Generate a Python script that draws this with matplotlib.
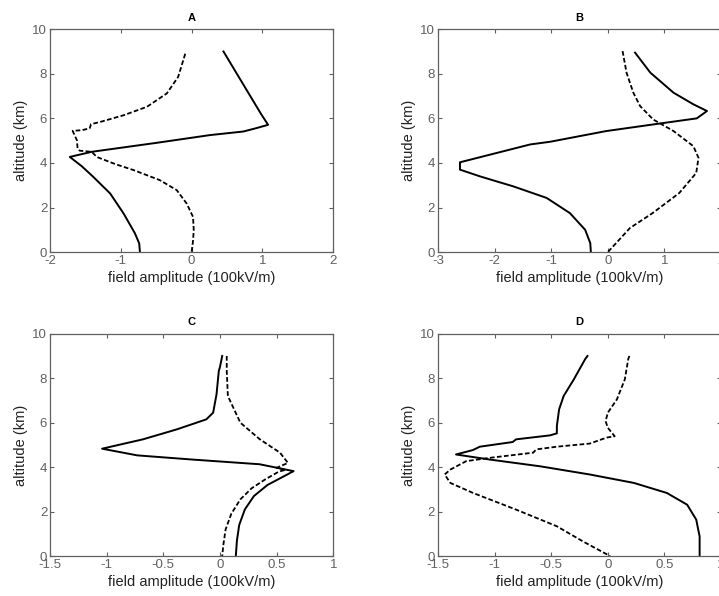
import matplotlib
matplotlib.use("Agg")
import matplotlib.pyplot as plt

plt.rcParams["font.family"] = ["Liberation Sans", "DejaVu Sans"]
plt.rcParams["axes.unicode_minus"] = False

# panel A
a_solid_x = [0.45, 0.62, 0.80, 0.98, 1.08, 0.90, 0.73, 0.26, -0.50, -1.41, -1.72,
             -1.55, -1.39, -1.15, -0.96, -0.80, -0.74, -0.73]
a_solid_y = [9.0, 8.1, 7.15, 6.2, 5.71, 5.55, 5.41, 5.25, 4.90, 4.50, 4.27,
             3.85, 3.38, 2.63, 1.73, 0.84, 0.39, 0.0]
a_dash_x = [-0.09, -0.19, -0.35, -0.63, -0.96, -1.29, -1.42, -1.44, -1.55, -1.68,
            -1.62, -1.61, -1.58, -1.41, -1.34, -1.08, -0.82, -0.45, -0.21, -0.07,
            0.02, 0.03, 0.02, 0.0]
a_dash_y = [8.9, 7.86, 7.12, 6.52, 6.14, 5.84, 5.74, 5.55, 5.47, 5.44,
            5.02, 4.65, 4.55, 4.50, 4.27, 3.95, 3.68, 3.23, 2.78, 2.18,
            1.58, 0.99, 0.5, 0.0]

# panel B
b_solid_x = [0.48, 0.75, 1.16, 1.51, 1.75, 1.57, 0.92, -0.03, -1.02, -1.37, -2.61,
             -2.61, -2.26, -1.67, -1.08, -0.67, -0.40, -0.31, -0.30]
b_solid_y = [8.95, 8.05, 7.15, 6.63, 6.33, 6.0, 5.77, 5.43, 4.95, 4.83, 4.03,
             3.70, 3.40, 2.95, 2.43, 1.75, 1.0, 0.4, 0.0]
b_dash_x = [0.26, 0.33, 0.45, 0.57, 0.80, 1.16, 1.51, 1.60, 1.56, 1.26, 0.79, 0.39, 0.0]
b_dash_y = [9.02, 8.05, 7.15, 6.55, 5.95, 5.43, 4.75, 4.23, 3.55, 2.65, 1.75, 1.08, 0.0]

# panel C
c_solid_x = [0.02, 0.0, -0.01, -0.03, -0.06, -0.12, -0.38, -0.68, -1.04, -0.73,
             -0.24, 0.35, 0.65, 0.55, 0.42, 0.30, 0.22, 0.17, 0.15, 0.14]
c_solid_y = [9.0, 8.5, 8.33, 7.28, 6.45, 6.15, 5.70, 5.25, 4.83, 4.53,
             4.34, 4.13, 3.82, 3.55, 3.20, 2.70, 2.10, 1.40, 0.70, 0.0]
c_dash_x = [0.06, 0.06, 0.07, 0.18, 0.35, 0.53, 0.60, 0.50, 0.58, 0.52,
            0.40, 0.28, 0.18, 0.10, 0.05, 0.03, 0.02]
c_dash_y = [9.0, 8.33, 7.2, 6.0, 5.26, 4.65, 4.19, 3.97, 3.88, 3.80,
            3.45, 3.05, 2.55, 1.90, 1.20, 0.50, 0.0]

# panel D
d_solid_x = [-0.18, -0.20, -0.30, -0.39, -0.43, -0.45, -0.45, -0.51, -0.81, -0.84,
             -1.13, -1.19, -1.34, -1.04, -0.60, -0.16, 0.23, 0.52, 0.70, 0.78, 0.81, 0.81]
d_solid_y = [9.0, 8.86, 7.95, 7.2, 6.6, 5.85, 5.52, 5.43, 5.25, 5.13,
             4.92, 4.77, 4.57, 4.34, 4.04, 3.67, 3.29, 2.84, 2.31, 1.64, 0.88, 0.0]
d_dash_x = [0.19, 0.18, 0.15, 0.08, 0.0, -0.02, 0.0, 0.06, -0.01, -0.16, -0.45,
            -0.63, -0.66, -1.04, -1.25, -1.39, -1.44, -1.39, -1.19, -0.81, -0.45,
            -0.22, 0.02]
d_dash_y = [9.0, 8.86, 7.95, 7.05, 6.45, 6.07, 5.77, 5.39, 5.33, 5.06, 4.92,
            4.80, 4.65, 4.42, 4.27, 3.89, 3.67, 3.29, 2.84, 2.09, 1.34,
            0.66, 0.0]

panels = [
    ("A", a_solid_x, a_solid_y, a_dash_x, a_dash_y, (-2, 2), [-2, -1, 0, 1, 2], ["-2", "-1", "0", "1", "2"]),
    ("B", b_solid_x, b_solid_y, b_dash_x, b_dash_y, (-3, 2), [-3, -2, -1, 0, 1, 2], ["-3", "-2", "-1", "0", "1", "2"]),
    ("C", c_solid_x, c_solid_y, c_dash_x, c_dash_y, (-1.5, 1), [-1.5, -1, -0.5, 0, 0.5, 1],
     ["-1.5", "-1", "-0.5", "0", "0.5", "1"]),
    ("D", d_solid_x, d_solid_y, d_dash_x, d_dash_y, (-1.5, 1), [-1.5, -1, -0.5, 0, 0.5, 1],
     ["-1.5", "-1", "-0.5", "0", "0.5", "1"]),
]

positions = [
    [0.0695, 0.577, 0.394, 0.374],
    [0.609, 0.577, 0.394, 0.374],
    [0.0695, 0.067, 0.394, 0.373],
    [0.609, 0.067, 0.394, 0.373],
]

fig = plt.figure(figsize=(7.19, 5.96), dpi=100)
grey = "#606060"

for (name, sx, sy, dx, dy, xlim, xt, xtl), pos in zip(panels, positions):
    ax = fig.add_axes(pos)
    ax.plot(sx, sy, color="black", lw=1.4, solid_joinstyle="round")
    ax.plot(dx, dy, color="black", lw=1.3, dashes=(2.6, 1.3))
    ax.set_xlim(*xlim)
    ax.set_ylim(0, 10)
    ax.set_xticks(xt)
    ax.set_xticklabels(xtl)
    ax.set_yticks([0, 2, 4, 6, 8, 10])
    ax.tick_params(direction="in", top=True, right=True, length=3, width=0.8,
                   color=grey, labelcolor=grey, labelsize=9.5, pad=2)
    for sp in ax.spines.values():
        sp.set_color(grey)
        sp.set_linewidth(0.9)
    ax.set_title(name, fontsize=8, fontweight="bold", pad=6)
    ax.set_xlabel("field amplitude (100kV/m)", fontsize=10.5, color="#222222", labelpad=3)
    ax.set_ylabel("altitude (km)", fontsize=10.5, color="#222222", labelpad=3)

fig.savefig("out.png", dpi=100)
